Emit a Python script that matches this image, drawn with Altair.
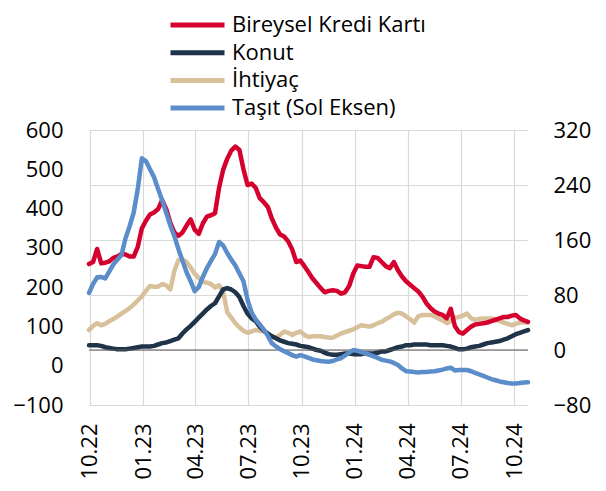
import altair as alt
import pandas as pd

# Weekly dates (Fridays)
tarihler = pd.date_range("2022-09-30", periods=109, freq="7D").strftime("%Y-%m-%d").tolist()

seriler = ["Bireysel Kredi Kartı", "Konut", "İhtiyaç", "Taşıt (Sol Eksen)"]
renkler = ["#d6002f", "#1f3349", "#d8c09b", "#5b8dcb"]

kredi_karti = [125, 128, 147, 126, 127, 129, 134, 136, 140, 139, 136, 136, 150, 177, 188, 197, 200, 205, 218, 205,
               185, 171, 166, 171, 181, 190, 175, 169, 184, 194, 196, 199, 236, 262, 278, 290, 296, 291, 263, 240,
               242, 236, 221, 215, 208, 191, 178, 168, 165, 158, 146, 128, 130, 122, 113, 104, 97, 90, 84, 86,
               87, 86, 82, 84, 93, 111, 123, 122, 121, 121, 135, 134, 128, 122, 119, 128, 116, 107, 100, 95,
               90, 85, 78, 68, 61, 56, 53, 51, 46, 60, 35, 26, 24, 29, 34, 37, 38, 39, 40, 42,
               44, 46, 48, 48, 50, 51, 46, 43, 41]

konut = [7, 7, 7, 6, 4, 3, 2, 1, 1, 1, 2, 3, 4, 5, 5, 5, 6, 8, 10, 11,
         13, 15, 17, 24, 30, 35, 41, 47, 53, 59, 64, 68, 78, 88, 90, 88, 84, 77, 64, 53,
         46, 42, 34, 28, 24, 20, 17, 14, 12, 10, 9, 8, 6, 5, 4, 2, 0, -1, -4, -6,
         -7, -7, -6, -5, -5, -6, -6, -6, -5, -5, -5, -4, -2, -2, 0, 2, 4, 5, 7, 7,
         8, 8, 8, 8, 7, 7, 7, 7, 6, 5, 3, 1, 1, 2, 4, 5, 6, 8, 10, 11,
         12, 13, 15, 17, 20, 23, 25, 27, 29]

ihtiyac = [29, 35, 39, 36, 38, 42, 45, 49, 53, 57, 61, 66, 72, 78, 86, 93, 92, 92, 96, 94,
           88, 115, 131, 132, 128, 120, 111, 105, 99, 98, 96, 91, 94, 85, 55, 47, 39, 33, 28, 25,
           27, 29, 28, 27, 24, 20, 18, 22, 27, 25, 22, 25, 27, 22, 19, 20, 20, 20, 19, 18,
           18, 21, 24, 26, 28, 30, 33, 36, 35, 34, 36, 39, 41, 45, 48, 52, 54, 53, 49, 45,
           40, 49, 51, 51, 51, 49, 46, 43, 39, 42, 47, 48, 50, 53, 46, 44, 45, 46, 46, 46,
           44, 42, 40, 38, 36, 38, 40, 40, 40]

tasit = [185, 208, 225, 226, 222, 240, 258, 270, 282, 325, 355, 390, 450, 528, 521, 500, 480, 450, 421, 389,
         357, 330, 297, 267, 238, 215, 190, 200, 226, 248, 267, 284, 315, 306, 287, 270, 255, 235, 215, 168,
         135, 118, 105, 92, 76, 57, 49, 42, 37, 32, 27, 23, 27, 24, 20, 16, 14, 12, 11, 10,
         12, 16, 19, 26, 33, 40, 38, 35, 31, 28, 24, 20, 15, 13, 11, 7, 2, -7, -14, -15,
         -16, -17, -16, -16, -15, -14, -12, -10, -7, -5, -12, -11, -11, -11, -14, -18, -22, -26, -30, -34,
         -37, -40, -42, -44, -45, -45, -44, -43, -42]

sag_eksen = [-80, 0, 80, 160, 240, 320]
sol_eksen = [-100, 0, 100, 200, 300, 400, 500, 600]
ceyrekler = [(2022, 10), (2023, 1), (2023, 4), (2023, 7), (2023, 10),
             (2024, 1), (2024, 4), (2024, 7), (2024, 10)]

sag_df = pd.concat([
    pd.DataFrame({"tarih": tarihler, "deger": ihtiyac, "seri": seriler[2]}),
    pd.DataFrame({"tarih": tarihler, "deger": konut, "seri": seriler[1]}),
    pd.DataFrame({"tarih": tarihler, "deger": kredi_karti, "seri": seriler[0]}),
], ignore_index=True)
sol_df = pd.DataFrame({"tarih": tarihler, "deger": tasit, "seri": seriler[3]})

renk = alt.Color("seri:N", scale=alt.Scale(domain=seriler, range=renkler), title=None)

x_enc = alt.X(
    "tarih:T",
    scale=alt.Scale(domain=[alt.DateTime(year=2022, month=9, date=30, utc=True),
                            alt.DateTime(year=2024, month=10, date=25, utc=True)]),
    axis=alt.Axis(values=[alt.DateTime(year=y, month=m, date=1, utc=True) for y, m in ceyrekler],
                  labelExpr="utcFormat(datum.value, '%m.%y')", grid=True, labelAngle=270,
                  labelPadding=18, title=None),
)

sag_cizgi = alt.Chart(sag_df).mark_line(strokeWidth=4.5, strokeJoin="round", strokeCap="round").encode(
    x=x_enc,
    y=alt.Y("deger:Q", scale=alt.Scale(domain=[-80, 320], nice=False),
            axis=alt.Axis(orient="right", values=sag_eksen, grid=True, labelPadding=25, title=None)),
    color=renk,
)
sifir = alt.Chart(pd.DataFrame({"a": [0]})).mark_rule(color="#595959", strokeWidth=1.2).encode(
    y=alt.datum(0)
)
sag = alt.layer(sag_cizgi, sifir)

sol = alt.Chart(sol_df).mark_line(strokeWidth=4.5, strokeJoin="round", strokeCap="round").encode(
    x=x_enc,
    y=alt.Y("deger:Q", scale=alt.Scale(domain=[-100, 600], nice=False, zero=False),
            axis=alt.Axis(orient="left", values=sol_eksen, grid=False, labelPadding=26, title=None)),
    color=renk,
)

chart = alt.layer(sag, sol).resolve_scale(y="independent").properties(
    width=439, height=275,
    padding={"left": 4, "top": 4, "right": 5, "bottom": 5},
).configure(font="Open Sans").configure_view(strokeWidth=0).configure_axis(
    labelFontSize=22, labelColor="#000000", gridColor="#d9d9d9", gridWidth=1.2,
    domain=False, ticks=False,
).configure_legend(
    orient="none", legendX=79, legendY=-118, symbolType="stroke", symbolSize=2916,
    symbolStrokeWidth=5, labelFontSize=22, labelOffset=5, clipHeight=26, rowPadding=1.7,
    labelColor="#000000", labelLimit=400,
)

chart.save("out.html", embed_options={"renderer": "svg", "actions": False})
